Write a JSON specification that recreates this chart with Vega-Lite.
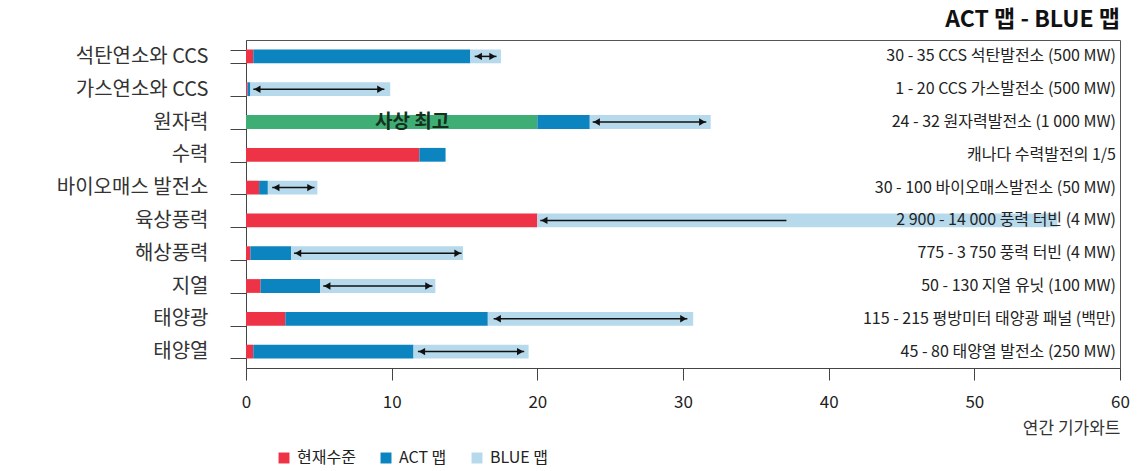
{
  "$schema": "https://vega.github.io/schema/vega-lite/v6.json",
  "width": 874,
  "height": 328,
  "autosize": {"type": "none"},
  "padding": {"left": 246, "top": 40, "right": 20, "bottom": 103},
  "background": "white",
  "config": {
    "font": "Noto Sans CJK KR",
    "view": {"stroke": "#555", "strokeWidth": 1}
  },
  "title": {
    "text": "ACT 맵 - BLUE 맵",
    "anchor": "end",
    "frame": "group",
    "fontSize": 23,
    "fontWeight": "bold",
    "font": "Noto Sans CJK KR",
    "color": "#111",
    "offset": -2
  },
  "datasets": {
    "bars": [
      {"cat": "석탄연소와 CCS", "type": "현재수준", "x0": 0, "x1": 0.5},
      {"cat": "석탄연소와 CCS", "type": "ACT 맵", "x0": 0.5, "x1": 15.4},
      {"cat": "석탄연소와 CCS", "type": "BLUE 맵", "x0": 15.4, "x1": 17.5},
      {"cat": "가스연소와 CCS", "type": "현재수준", "x0": 0, "x1": 0.1},
      {"cat": "가스연소와 CCS", "type": "ACT 맵", "x0": 0.1, "x1": 0.3},
      {"cat": "가스연소와 CCS", "type": "BLUE 맵", "x0": 0.3, "x1": 9.9},
      {"cat": "원자력", "type": "사상 최고", "x0": 0, "x1": 20.0},
      {"cat": "원자력", "type": "ACT 맵", "x0": 20.0, "x1": 23.6},
      {"cat": "원자력", "type": "BLUE 맵", "x0": 23.6, "x1": 31.9},
      {"cat": "수력", "type": "현재수준", "x0": 0, "x1": 11.9},
      {"cat": "수력", "type": "ACT 맵", "x0": 11.9, "x1": 13.7},
      {"cat": "바이오매스 발전소", "type": "현재수준", "x0": 0, "x1": 0.9},
      {"cat": "바이오매스 발전소", "type": "ACT 맵", "x0": 0.9, "x1": 1.5},
      {"cat": "바이오매스 발전소", "type": "BLUE 맵", "x0": 1.5, "x1": 4.9},
      {"cat": "육상풍력", "type": "현재수준", "x0": 0, "x1": 20.0},
      {"cat": "육상풍력", "type": "BLUE 맵", "x0": 20.0, "x1": 55.7},
      {"cat": "해상풍력", "type": "현재수준", "x0": 0, "x1": 0.3},
      {"cat": "해상풍력", "type": "ACT 맵", "x0": 0.3, "x1": 3.1},
      {"cat": "해상풍력", "type": "BLUE 맵", "x0": 3.1, "x1": 14.9},
      {"cat": "지열", "type": "현재수준", "x0": 0, "x1": 1.0},
      {"cat": "지열", "type": "ACT 맵", "x0": 1.0, "x1": 5.1},
      {"cat": "지열", "type": "BLUE 맵", "x0": 5.1, "x1": 13.0},
      {"cat": "태양광", "type": "현재수준", "x0": 0, "x1": 2.7},
      {"cat": "태양광", "type": "ACT 맵", "x0": 2.7, "x1": 16.6},
      {"cat": "태양광", "type": "BLUE 맵", "x0": 16.6, "x1": 30.7},
      {"cat": "태양열", "type": "현재수준", "x0": 0, "x1": 0.5},
      {"cat": "태양열", "type": "ACT 맵", "x0": 0.5, "x1": 11.5},
      {"cat": "태양열", "type": "BLUE 맵", "x0": 11.5, "x1": 19.4}
    ],
    "arrows": [
      {"cat": "석탄연소와 CCS", "a1": 15.7, "a2": 17.2, "right": true},
      {"cat": "가스연소와 CCS", "a1": 0.5, "a2": 9.5, "right": true},
      {"cat": "원자력", "a1": 23.8, "a2": 31.6, "right": true},
      {"cat": "바이오매스 발전소", "a1": 1.8, "a2": 4.7, "right": true},
      {"cat": "육상풍력", "a1": 20.2, "a2": 37.1, "right": false},
      {"cat": "해상풍력", "a1": 3.3, "a2": 14.8, "right": true},
      {"cat": "지열", "a1": 5.3, "a2": 12.8, "right": true},
      {"cat": "태양광", "a1": 17.0, "a2": 30.3, "right": true},
      {"cat": "태양열", "a1": 11.8, "a2": 19.1, "right": true}
    ],
    "notes": [
      {"cat": "석탄연소와 CCS", "note": "30 - 35 CCS 석탄발전소 (500 MW)"},
      {"cat": "가스연소와 CCS", "note": "1 - 20 CCS 가스발전소 (500 MW)"},
      {"cat": "원자력", "note": "24 - 32 원자력발전소 (1 000 MW)"},
      {"cat": "수력", "note": "캐나다 수력발전의 1/5"},
      {"cat": "바이오매스 발전소", "note": "30 - 100 바이오매스발전소 (50 MW)"},
      {"cat": "육상풍력", "note": "2 900 - 14 000 풍력 터빈 (4 MW)"},
      {"cat": "해상풍력", "note": "775 - 3 750 풍력 터빈 (4 MW)"},
      {"cat": "지열", "note": "50 - 130 지열 유닛 (100 MW)"},
      {"cat": "태양광", "note": "115 - 215 평방미터 태양광 패널 (백만)"},
      {"cat": "태양열", "note": "45 - 80 태양열 발전소 (250 MW)"}
    ]
  },
  "encoding": {
    "y": {
      "field": "cat",
      "type": "nominal",
      "sort": ["석탄연소와 CCS", "가스연소와 CCS", "원자력", "수력", "바이오매스 발전소", "육상풍력", "해상풍력", "지열", "태양광", "태양열"],
      "scale": {"paddingInner": 0.58, "paddingOuter": 0.29},
      "axis": {
        "title": null,
        "tickBand": "extent",
        "tickSize": 16,
        "tickColor": "#444",
        "domainColor": "#444",
        "labelPadding": 22,
        "labelFontSize": 20,
        "labelColor": "#333",
        "labelFont": "Noto Sans CJK KR"
      }
    }
  },
  "layer": [
    {
      "data": {"name": "bars"},
      "mark": {"type": "bar"},
      "encoding": {
        "x": {
          "field": "x0",
          "type": "quantitative",
          "scale": {"domain": [0, 60], "nice": false},
          "axis": {
            "title": "연간 기가와트",
            "titleFontSize": 17,
            "titleFontWeight": "normal",
            "titleColor": "#333",
            "titleAnchor": "end",
            "titleAlign": "right",
            "titleX": 874,
            "titleY": 60,
            "titleBaseline": "middle",
            "values": [0, 10, 20, 30, 40, 50, 60],
            "grid": false,
            "tickSize": 12,
            "tickColor": "#444",
            "domainColor": "#444",
            "labelPadding": 14,
            "labelFontSize": 17,
            "labelColor": "#222",
            "labelFlush": false
          }
        },
        "x2": {"field": "x1"},
        "color": {
          "field": "type",
          "type": "nominal",
          "scale": {
            "domain": ["현재수준", "ACT 맵", "BLUE 맵", "사상 최고"],
            "range": ["#ee3347", "#0b84bf", "#b6d9ec", "#3fae74"]
          },
          "legend": {
            "title": null,
            "values": ["현재수준", "ACT 맵", "BLUE 맵"],
            "orient": "none",
            "legendX": 30,
            "legendY": 410,
            "direction": "horizontal",
            "symbolType": "square",
            "symbolSize": 120,
            "symbolStrokeWidth": 0,
            "labelFontSize": 16,
            "labelColor": "#222",
            "labelOffset": 5,
            "columnPadding": 22
          }
        }
      }
    },
    {
      "data": {"name": "arrows"},
      "mark": {"type": "rule", "color": "#111", "strokeWidth": 1.5},
      "encoding": {
        "x": {"field": "a1", "type": "quantitative"},
        "x2": {"field": "a2"}
      }
    },
    {
      "data": {"name": "arrows"},
      "mark": {"type": "point", "shape": "triangle-left", "filled": true, "color": "#111", "size": 55, "xOffset": 4, "opacity": 1},
      "encoding": {
        "x": {"field": "a1", "type": "quantitative"}
      }
    },
    {
      "data": {"name": "arrows"},
      "transform": [{"filter": "datum.right"}],
      "mark": {"type": "point", "shape": "triangle-right", "filled": true, "color": "#111", "size": 55, "xOffset": -4, "opacity": 1},
      "encoding": {
        "x": {"field": "a2", "type": "quantitative"}
      }
    },
    {
      "data": {"name": "notes"},
      "mark": {"type": "text", "align": "right", "baseline": "middle", "dx": -4, "fontSize": 16, "color": "#222", "font": "Noto Sans CJK KR"},
      "encoding": {
        "x": {"datum": 60, "type": "quantitative"},
        "text": {"field": "note"}
      }
    },
    {
      "data": {"values": [{"cat": "원자력", "label": "사상 최고"}]},
      "mark": {"type": "text", "align": "center", "baseline": "middle", "fontSize": 19, "fontWeight": "bold", "color": "#15301c", "font": "Noto Sans CJK KR"},
      "encoding": {
        "x": {"datum": 11.4, "type": "quantitative"},
        "text": {"field": "label"}
      }
    }
  ]
}
